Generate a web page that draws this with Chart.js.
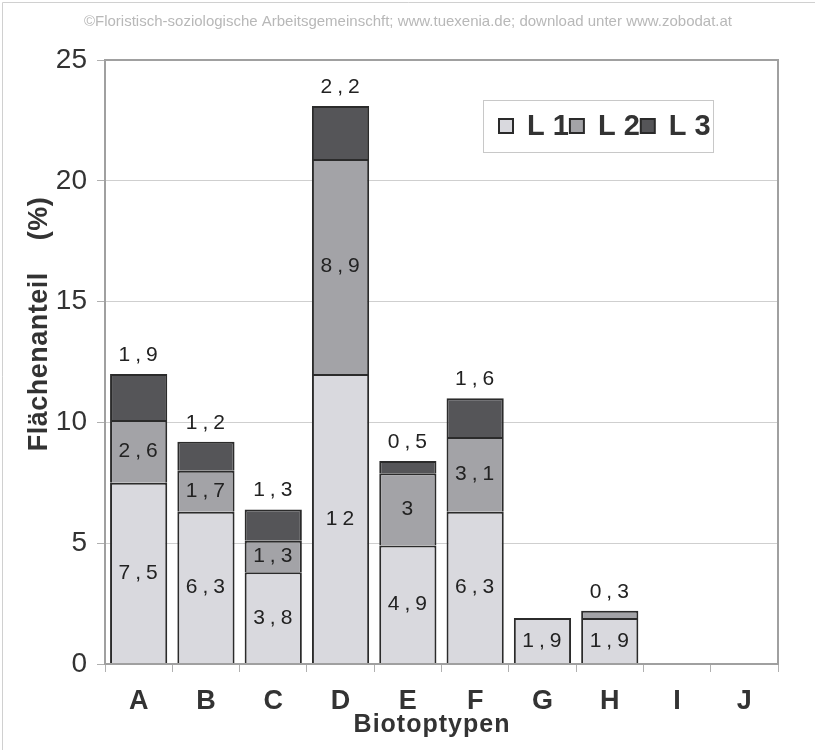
<!DOCTYPE html>
<html>
<head>
<meta charset="utf-8">
<script src="https://cdn.jsdelivr.net/npm/chart.js@4/dist/chart.umd.min.js"></script>
<style>
  html, body { margin: 0; padding: 0; background: #fff; }
  #wrap { width: 815px; height: 750px; }
</style>
</head>
<body>
<div id="wrap"><canvas id="Chart" width="815" height="750"></canvas></div>
<script>
// chart data
const categories = ['A', 'B', 'C', 'D', 'E', 'F', 'G', 'H', 'I', 'J'];
const seriesNames = ['L 1', 'L 2', 'L 3'];
const l1Values = [7.5, 6.3, 3.8, 12, 4.9, 6.3, 1.9, 1.9, 0, 0];
const l2Values = [2.6, 1.7, 1.3, 8.9, 3, 3.1, 0, 0.3, 0, 0];
const l3Values = [1.9, 1.2, 1.3, 2.2, 0.5, 1.6, 0, 0, 0, 0];
const yTicks = [0, 5, 10, 15, 20, 25];
const seriesColors = ['#d9d9de', '#a3a3a7', '#555558'];

const watermark = '©Floristisch-soziologische Arbeitsgemeinschft; www.tuexenia.de; download unter www.zobodat.at';
const yTitle = 'Flächenanteil    (%)';
const xTitle = 'Biotoptypen';
const FONT = '"Liberation Sans", Arial, sans-serif';

// page background, watermark line, plot frame and axis titles
const framePlugin = {
    id: 'frame',
    beforeDraw(chart) {
        const ctx = chart.ctx;
        ctx.save();
        ctx.fillStyle = '#fff';
        ctx.fillRect(0, 0, chart.width, chart.height);
        // faint scan border
        ctx.strokeStyle = '#d0d0d0';
        ctx.lineWidth = 1;
        ctx.beginPath();
        ctx.moveTo(2.5, chart.height);
        ctx.lineTo(2.5, 2.5);
        ctx.lineTo(chart.width, 2.5);
        ctx.stroke();
        ctx.fillStyle = '#b8b8b8';
        ctx.font = '15px ' + FONT;
        ctx.textAlign = 'center';
        ctx.textBaseline = 'middle';
        ctx.fillText(watermark, 408, 22);
        ctx.restore();
    },
    afterDraw(chart) {
        const a = chart.chartArea;
        const ctx = chart.ctx;
        ctx.save();
        ctx.strokeStyle = '#a0a0a0';
        ctx.lineWidth = 2;
        ctx.strokeRect(a.left, a.top, a.right - a.left, a.bottom - a.top);
        ctx.fillStyle = '#333';
        ctx.textAlign = 'center';
        // x axis title, a little left of the middle like the original
        ctx.font = 'bold 25px ' + FONT;
        ctx.letterSpacing = '1px';
        ctx.textBaseline = 'alphabetic';
        ctx.fillText(xTitle, 432, 732);
        // y axis title, sits a bit above the middle
        ctx.translate(40, 324);
        ctx.rotate(-Math.PI / 2);
        ctx.font = 'bold 27px ' + FONT;
        ctx.letterSpacing = '0.5px';
        ctx.textBaseline = 'middle';
        ctx.fillText(yTitle, 0, 0);
        ctx.restore();
    }
};

// numbers on the bar segments
const valueLabels = {
    id: 'valueLabels',
    afterDatasetsDraw(chart) {
        const ctx = chart.ctx;
        const sets = chart.data.datasets;
        ctx.save();
        ctx.fillStyle = '#222';
        ctx.font = '21px ' + FONT;
        ctx.letterSpacing = '5px';
        ctx.textAlign = 'center';
        categories.forEach((cat, j) => {
            // topmost segment with a value
            let top = -1;
            sets.forEach((ds, i) => { if (ds.data[j]) top = i; });
            sets.forEach((ds, i) => {
                const v = ds.data[j];
                if (!v) return;
                const el = chart.getDatasetMeta(i).data[j];
                const txt = String(v).replace('.', ',');
                if (i === top && i > 0) {
                    ctx.textBaseline = 'alphabetic';
                    ctx.fillText(txt, el.x + 2, el.y - 13);
                } else {
                    ctx.textBaseline = 'middle';
                    ctx.fillText(txt, el.x + 2, (el.y + el.base) / 2);
                }
            });
        });
        ctx.restore();
    }
};

// legend box inside the plot
const boxLegend = {
    id: 'boxLegend',
    afterDraw(chart) {
        const a = chart.chartArea;
        const ctx = chart.ctx;
        const x0 = a.right - 295, y0 = a.top + 40, w = 230, h = 52;
        ctx.save();
        ctx.fillStyle = '#fff';
        ctx.fillRect(x0, y0, w, h);
        ctx.strokeStyle = '#c8c8c8';
        ctx.lineWidth = 1;
        ctx.strokeRect(x0 + 0.5, y0 + 0.5, w, h);
        ctx.font = 'bold 29px ' + FONT;
        ctx.textBaseline = 'middle';
        ctx.textAlign = 'left';
        let x = x0 + 16;
        const cy = y0 + 26;
        chart.data.datasets.forEach(ds => {
            ctx.fillStyle = ds.backgroundColor;
            ctx.fillRect(x, cy - 7, 14, 14);
            ctx.strokeStyle = '#2a2a2a';
            ctx.lineWidth = 2;
            ctx.strokeRect(x, cy - 7, 14, 14);
            ctx.fillStyle = '#333';
            ctx.fillText(ds.label, x + 28, cy + 1);
            x += 28 + ctx.measureText(ds.label).width + 1;
        });
        ctx.restore();
    }
};

function makeSet(name, values, color) {
    return {
        label: name,
        data: values.map(v => v || null),
        backgroundColor: color,
        borderColor: '#2b2b2b',
        borderWidth: 2,
        borderSkipped: 'start',
        barPercentage: 0.85,
        categoryPercentage: 1
    };
}

const ctx = document.getElementById('Chart').getContext('2d');
const myChart = new Chart(ctx, {
    type: 'bar',
    data: {
        labels: categories,
        datasets: [
            makeSet(seriesNames[0], l1Values, seriesColors[0]),
            makeSet(seriesNames[1], l2Values, seriesColors[1]),
            makeSet(seriesNames[2], l3Values, seriesColors[2])
        ]
    },
    options: {
        responsive: false,
        animation: false,
        layout: { padding: { top: 60, right: 37, left: 0, bottom: 0 } },
        plugins: {
            legend: { display: false },
            tooltip: { enabled: false }
        },
        scales: {
            x: {
                stacked: true,
                afterFit: s => { s.height = 86; },
                grid: { offset: true, drawOnChartArea: false, tickLength: 8, tickColor: '#b0b0b0' },
                border: { color: '#a0a0a0', width: 2 },
                ticks: { color: '#333', font: { family: FONT, size: 27, weight: 'bold' }, padding: 13 }
            },
            y: {
                stacked: true,
                min: 0,
                max: 25,
                afterFit: s => { s.width = 105; },
                afterBuildTicks: s => { s.ticks = yTicks.map(v => ({ value: v })); },
                grid: { color: '#cfcfcf', lineWidth: 1, tickLength: 8, tickColor: '#b0b0b0' },
                border: { color: '#a0a0a0', width: 2 },
                ticks: { color: '#333', font: { family: FONT, size: 28 }, padding: 10 }
            }
        }
    },
    plugins: [framePlugin, valueLabels, boxLegend]
});
</script>
</body>
</html>
